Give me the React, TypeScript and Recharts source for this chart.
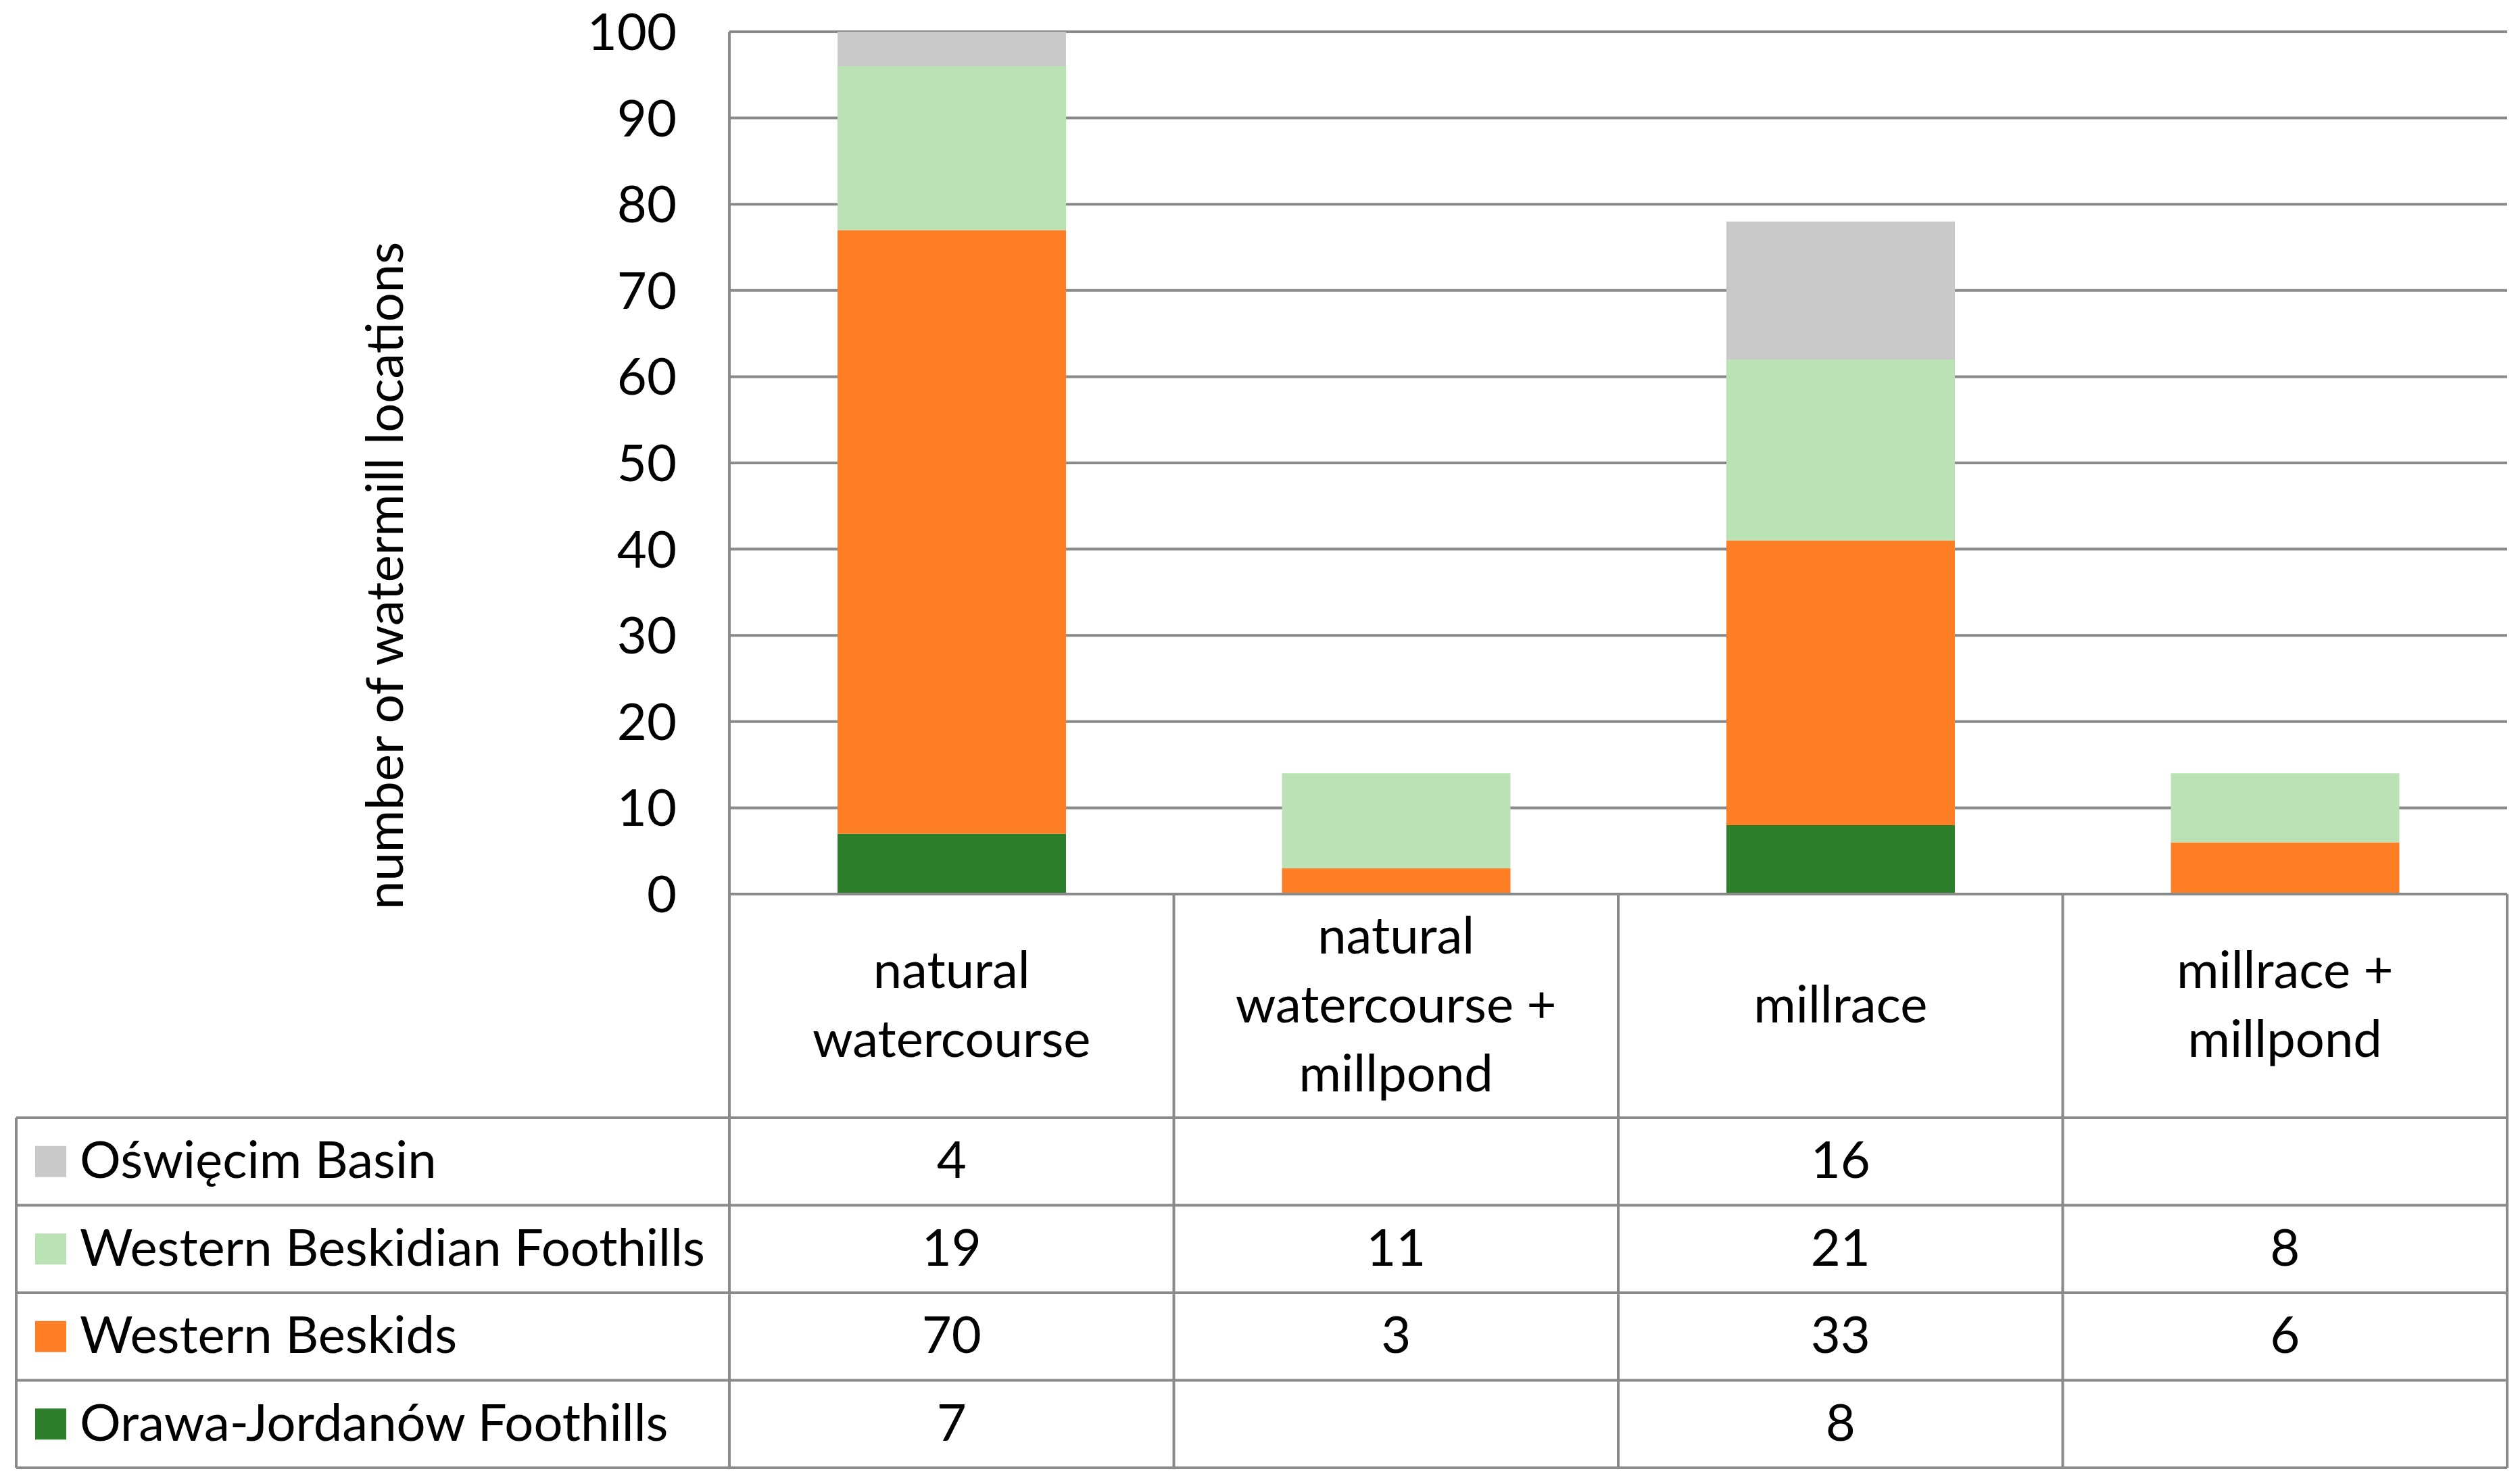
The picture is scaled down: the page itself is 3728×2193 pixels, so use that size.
import React from "react";
import { Bar, BarChart, CartesianGrid, XAxis, YAxis } from "recharts";

// category header lines (as shown in the table header)
const categoryLines = [
  ["natural", "watercourse"],
  ["natural", "watercourse +", "millpond"],
  ["millrace"],
  ["millrace +", "millpond"],
];
const categories = categoryLines.map((l) => l.join(" "));

// series values, bottom of stack first
const orawaJordanow = [7, null, 8, null];
const westernBeskids = [70, 3, 33, 6];
const westernBeskidianFoothills = [19, 11, 21, 8];
const oswiecimBasin = [4, null, 16, null];

const yTicks = [0, 10, 20, 30, 40, 50, 60, 70, 80, 90, 100];

const series = [
  { key: "orawa", name: "Orawa-Jordanów Foothills", values: orawaJordanow, color: "#2E7F2C" },
  { key: "beskids", name: "Western Beskids", values: westernBeskids, color: "#FE7E26" },
  { key: "foothills", name: "Western Beskidian Foothills", values: westernBeskidianFoothills, color: "#BBE2B5" },
  { key: "oswiecim", name: "Oświęcim Basin", values: oswiecimBasin, color: "#C9C9C9" },
];
// table rows go top series first
const tableRows = [...series].reverse();

const data = categories.map((name, i) => {
  const row: Record<string, any> = { name };
  series.forEach((s) => (row[s.key] = s.values[i]));
  return row;
});

const W = 3728;
const H = 2193;
const PLOT_LEFT = 1079;
const PLOT_RIGHT = 3709;
const PLOT_TOP = 47;
const PLOT_BOTTOM = 1323;
const TABLE_LEFT = 24;
const HEADER_BOTTOM = 1654;
const ROW_H = 129.5;
const FONT = "Lato, 'Open Sans', sans-serif";
const FS = 76;
const LINE = "#8A8A8A";
const LW = 4;
const TEXT_SHIFT = -5;

const rowCenter = (r: number) => HEADER_BOTTOM + ROW_H * (r + 0.5) + TEXT_SHIFT;

const ColumnTick = (props: any) => {
  const { x, index } = props;
  const lines = categoryLines[index];
  const mid = (PLOT_BOTTOM + HEADER_BOTTOM) / 2 + TEXT_SHIFT;
  const lh = 102;
  const start = mid - ((lines.length - 1) * lh) / 2;
  return (
    <g>
      {lines.map((t, i) => (
        <text key={i} x={x} y={start + i * lh} textAnchor="middle" dominantBaseline="central"
          fontFamily={FONT} fontSize={FS} fill="#000">{t}</text>
      ))}
      {tableRows.map((s, r) => {
        const v = s.values[index];
        return v == null ? null : (
          <text key={s.key} x={x} y={rowCenter(r)} textAnchor="middle" dominantBaseline="central"
            fontFamily={FONT} fontSize={FS} fill="#000">{v}</text>
        );
      })}
    </g>
  );
};

const TableLines = () => {
  const n = categories.length;
  const colW = (PLOT_RIGHT - PLOT_LEFT) / n;
  const bottom = HEADER_BOTTOM + ROW_H * tableRows.length;
  const hs = [];
  for (let r = 0; r <= tableRows.length; r++) hs.push(HEADER_BOTTOM + ROW_H * r);
  return (
    <svg width={W} height={H} style={{ position: "absolute", left: 0, top: 0, pointerEvents: "none" }}>
      <line x1={PLOT_LEFT} x2={PLOT_RIGHT} y1={PLOT_BOTTOM} y2={PLOT_BOTTOM} stroke={LINE} strokeWidth={LW} />
      {hs.map((y, i) => (
        <line key={i} x1={TABLE_LEFT} x2={PLOT_RIGHT} y1={y} y2={y} stroke={LINE} strokeWidth={LW} />
      ))}
      <line x1={TABLE_LEFT} x2={TABLE_LEFT} y1={HEADER_BOTTOM} y2={bottom} stroke={LINE} strokeWidth={LW} />
      {Array.from({ length: n + 1 }, (_, i) => (
        <line key={i} x1={PLOT_LEFT + colW * i} x2={PLOT_LEFT + colW * i} y1={PLOT_BOTTOM} y2={bottom}
          stroke={LINE} strokeWidth={LW} />
      ))}
      {tableRows.map((s, r) => (
        <g key={s.key}>
          <rect x={52} y={rowCenter(r) - TEXT_SHIFT - 23} width={46} height={46} fill={s.color} />
          <text x={118} y={rowCenter(r)} dominantBaseline="central" fontFamily={FONT} fontSize={FS} fill="#000">
            {s.name}
          </text>
        </g>
      ))}
      <text x={566} y={852} transform="rotate(-90 566 852)" textAnchor="middle" dominantBaseline="central"
        fontFamily={FONT} fontSize={FS} fill="#000">number of watermill locations</text>
    </svg>
  );
};

export default function App() {
  return (
    <div style={{ position: "relative", width: W, height: H, background: "#fff" }}>
      <style>{"body{margin:0}"}</style>
      <BarChart width={W} height={H} data={data}
        margin={{ top: PLOT_TOP, right: W - PLOT_RIGHT, left: PLOT_LEFT - 200, bottom: 0 }}>
        <CartesianGrid vertical={false} stroke={LINE} strokeWidth={LW} />
        <XAxis dataKey="name" axisLine={false} tickLine={false} height={H - PLOT_BOTTOM}
          tick={<ColumnTick />} interval={0} />
        <YAxis width={200} domain={[0, 100]} ticks={yTicks} tickLine={false} tickSize={0} tickMargin={78}
          axisLine={{ stroke: LINE, strokeWidth: LW }}
          tick={{ fontFamily: FONT, fontSize: FS, fill: "#000" }} />
        {series.map((s) => (
          <Bar key={s.key} dataKey={s.key} name={s.name} stackId="a" fill={s.color} barSize={338}
            isAnimationActive={false} />
        ))}
      </BarChart>
      <TableLines />
    </div>
  );
}
